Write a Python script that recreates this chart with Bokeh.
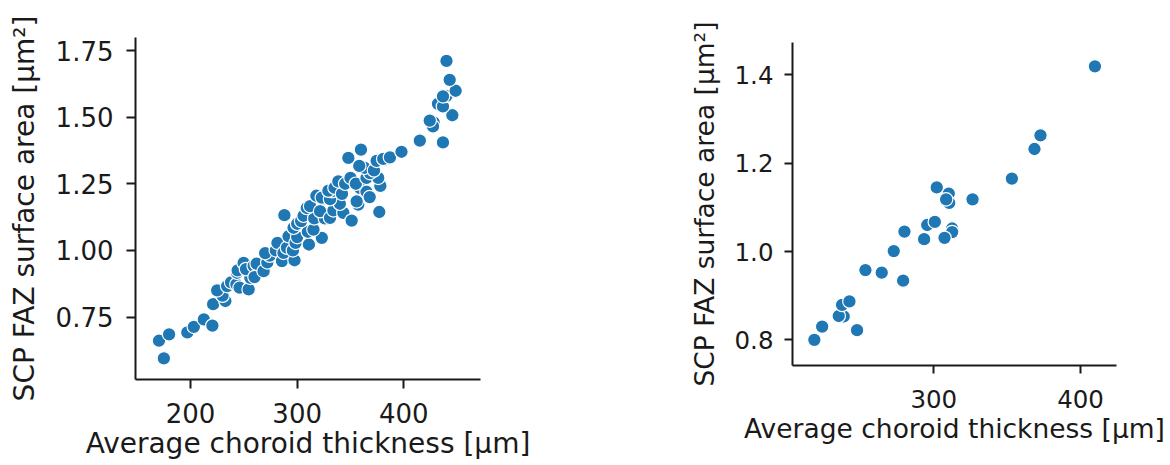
from bokeh.plotting import figure
from bokeh.layouts import row
from bokeh.models import FixedTicker, NumeralTickFormatter, Range1d
from bokeh.embed import file_html
from bokeh.resources import INLINE

# ---------------- data ----------------
left_x = [175.0, 170.4, 179.9, 197.0, 203.1, 212.5, 220.5, 221.2, 232.7, 230.0,
          225.0, 234.3, 238.0, 243.0, 246.0, 254.5, 256.1, 243.6, 244.2, 249.8,
          252.0, 259.2, 262.0, 260.0, 268.5, 272.0, 274.3, 270.0, 280.0, 285.7,
          297.5, 281.5, 287.2, 290.4, 296.0, 291.9, 298.5, 300.0, 311.0, 310.0,
          323.1, 315.3, 296.6, 288.0, 300.0, 303.7, 306.0, 316.0, 326.0, 309.0,
          312.1, 321.5, 330.8, 334.0, 343.3, 340.0, 351.1, 318.0, 325.0, 323.1,
          330.8, 332.8, 329.3, 335.0, 342.0, 357.3, 355.8, 358.9, 365.0, 368.0,
          377.0, 378.0, 338.6, 345.0, 350.0, 355.0, 365.0, 376.0, 368.2, 363.0,
          372.0, 358.2, 348.0, 359.8, 374.5, 382.0, 380.7, 387.0, 397.8, 415.0,
          436.7, 428.0, 427.4, 424.3, 445.5, 432.0, 436.7, 440.0, 436.7, 448.6,
          443.0, 440.0]
left_y = [0.595, 0.661, 0.685, 0.692, 0.713, 0.741, 0.718, 0.798, 0.810, 0.830,
          0.850, 0.866, 0.880, 0.873, 0.860, 0.854, 0.897, 0.916, 0.925, 0.953,
          0.930, 0.942, 0.950, 0.900, 0.922, 0.955, 0.980, 0.990, 1.000, 0.960,
          0.963, 1.028, 0.991, 1.010, 1.000, 1.053, 1.028, 1.050, 1.022, 1.070,
          1.047, 1.078, 1.085, 1.132, 1.100, 1.110, 1.130, 1.120, 1.120, 1.159,
          1.166, 1.147, 1.122, 1.150, 1.141, 1.175, 1.112, 1.205, 1.195, 1.198,
          1.192, 1.222, 1.224, 1.235, 1.212, 1.172, 1.184, 1.234, 1.220, 1.200,
          1.144, 1.242, 1.259, 1.250, 1.272, 1.250, 1.272, 1.272, 1.290, 1.310,
          1.300, 1.317, 1.347, 1.378, 1.336, 1.340, 1.343, 1.349, 1.370, 1.412,
          1.405, 1.480, 1.465, 1.487, 1.507, 1.550, 1.540, 1.580, 1.578, 1.599,
          1.640, 1.711]

right_x = [218.6, 223.9, 247.7, 238.6, 235.2, 237.5, 242.5, 279.1, 264.5, 253.4,
           272.7, 280.0, 293.4, 312.5, 312.5, 307.3, 295.5, 300.7, 310.2, 310.5,
           308.4, 326.4, 302.0, 353.2, 368.6, 372.7, 409.8]
right_y = [0.800, 0.830, 0.822, 0.853, 0.854, 0.879, 0.887, 0.934, 0.952, 0.958,
           1.001, 1.045, 1.028, 1.052, 1.044, 1.031, 1.060, 1.067, 1.131, 1.110,
           1.118, 1.118, 1.145, 1.165, 1.232, 1.263, 1.419]

x_label = "Average choroid thickness [μm]"
y_label = "SCP FAZ surface area [μm²]"

left_xticks = [200, 300, 400]
left_yticks = [0.75, 1.0, 1.25, 1.5, 1.75]
right_xticks = [300, 400]
right_yticks = [0.8, 1.0, 1.2, 1.4]

BLUE = "#1f77b4"
INK = "#1a1a1a"
FONT = "DejaVu Sans"


def style(p, xticks, yticks, yfmt, tick_fs, label_fs, tick_len,
          x_std, x_lstd, y_std, y_lstd):
    p.xgrid.visible = False
    p.ygrid.visible = False
    p.outline_line_color = None
    p.xaxis.ticker = FixedTicker(ticks=xticks)
    p.yaxis.ticker = FixedTicker(ticks=yticks)
    p.xaxis.formatter = NumeralTickFormatter(format="0")
    p.yaxis.formatter = NumeralTickFormatter(format=yfmt)
    for ax in (p.xaxis[0], p.yaxis[0]):
        ax.axis_line_color = INK
        ax.axis_line_width = 2
        ax.major_tick_line_color = INK
        ax.major_tick_line_width = 2
        ax.major_tick_out = tick_len
        ax.major_tick_in = 0
        ax.minor_tick_line_color = None
        ax.major_label_text_font = FONT
        ax.major_label_text_font_size = tick_fs
        ax.major_label_text_color = INK
        ax.axis_label_text_font = FONT
        ax.axis_label_text_font_size = label_fs
        ax.axis_label_text_font_style = "normal"
        ax.axis_label_text_color = INK
    p.xaxis.axis_label = x_label
    p.yaxis.axis_label = y_label
    p.xaxis.major_label_standoff = x_std
    p.xaxis.axis_label_standoff = x_lstd
    p.yaxis.major_label_standoff = y_std
    p.yaxis.axis_label_standoff = y_lstd


p1 = figure(width=585, height=465, output_backend="svg", toolbar_location=None,
            x_range=Range1d(148.4, 471.9), y_range=Range1d(0.5155, 1.7988),
            min_border_left=135, min_border_right=105,
            min_border_top=37, min_border_bottom=86, frame_align=False,
            background_fill_color="white", border_fill_color="white")
style(p1, left_xticks, left_yticks, "0.00", "26px", "28px", 9, 14, 1, 13, 12)
p1.scatter(left_x, left_y, size=13.5, fill_color=BLUE, line_color="white",
           line_width=1.2)

p2 = figure(width=585, height=465, output_backend="svg", toolbar_location=None,
            x_range=Range1d(203.7, 424.5), y_range=Range1d(0.742, 1.473),
            min_border_left=207, min_border_right=54,
            min_border_top=42, min_border_bottom=100, frame_align=False,
            background_fill_color="white", border_fill_color="white")
style(p2, right_xticks, right_yticks, "0.0", "24.5px", "26.5px", 8, 16, 2, 11, 12)
p2.scatter(right_x, right_y, size=13.5, fill_color=BLUE, line_color="white",
           line_width=1.2)

layout = row(p1, p2)
open("out.html", "w").write(file_html(layout, INLINE))
